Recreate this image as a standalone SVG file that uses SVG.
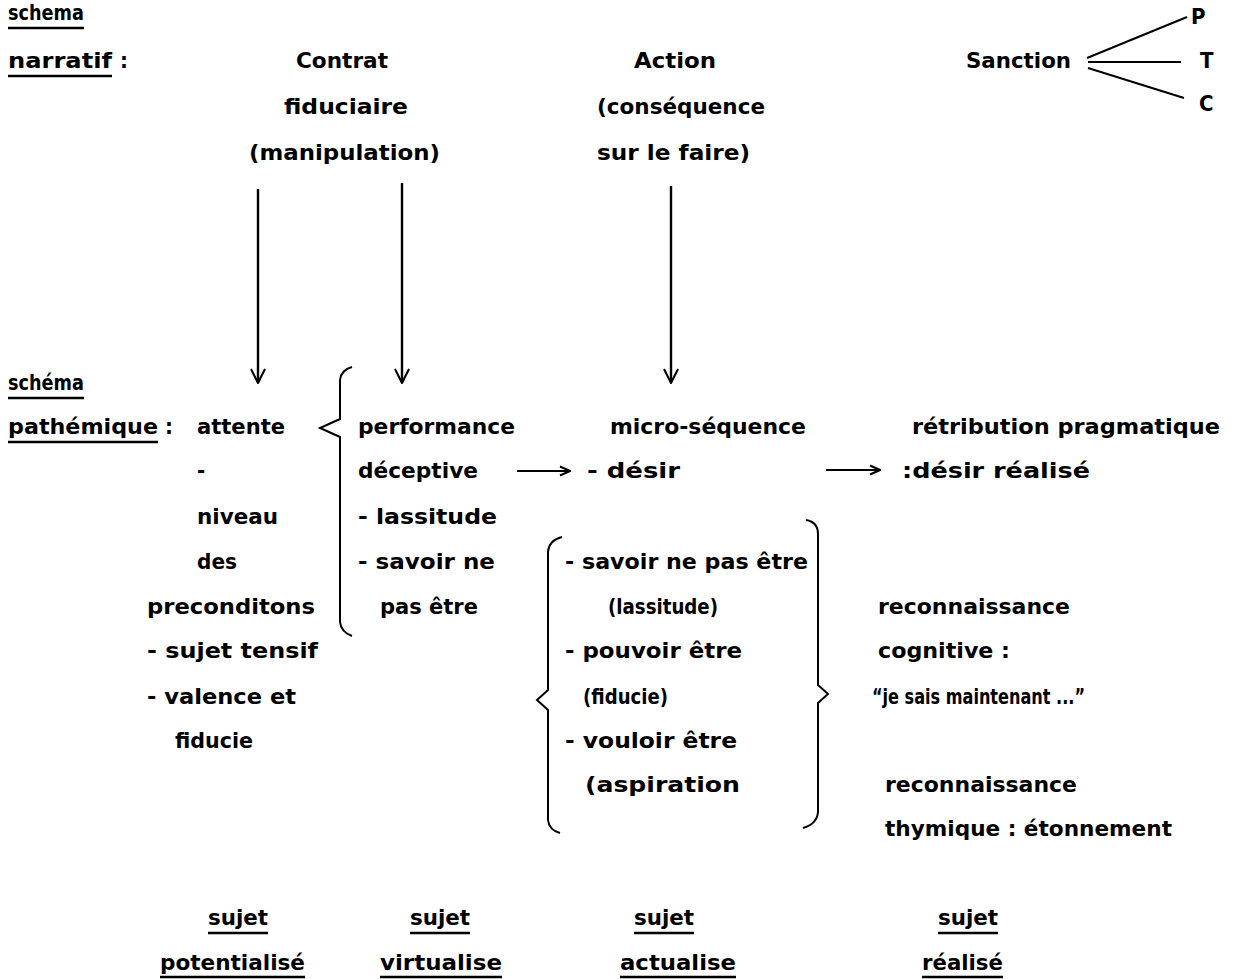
<svg xmlns="http://www.w3.org/2000/svg" width="1235" height="979" viewBox="0 0 1235 979">
<style>
text{font-family:"DejaVu Sans Condensed","DejaVu Sans","Liberation Sans",sans-serif;font-stretch:condensed;font-weight:bold;font-size:22px;fill:#000}
.ul{stroke:#000;stroke-width:2.5}
.ln{stroke:#000;stroke-width:2.4;fill:none}
.br{stroke:#000;stroke-width:2;fill:none}
</style>
<defs>
<marker id="v" viewBox="0 0 16 16" refX="15" refY="8" markerWidth="16" markerHeight="16" orient="auto" markerUnits="userSpaceOnUse"><path d="M1,1 L15,8 L1,15" fill="none" stroke="#000" stroke-width="2"/></marker>
<marker id="h" viewBox="0 0 12 12" refX="11" refY="6" markerWidth="12" markerHeight="12" orient="auto" markerUnits="userSpaceOnUse"><path d="M1,1.5 L11,6 L1,10.5" fill="none" stroke="#000" stroke-width="2"/></marker>
</defs>
<rect width="1235" height="979" fill="#fff"/>

<g id="label-narratif">
<text x="8" y="20" textLength="76" lengthAdjust="spacingAndGlyphs">schema</text>
<line class="ul" x1="8" y1="28" x2="84" y2="28"/>
<text x="8" y="68" textLength="104" lengthAdjust="spacingAndGlyphs">narratif</text>
<text x="120" y="68">:</text>
<line class="ul" x1="8" y1="76" x2="112" y2="76"/>
</g>
<g id="contrat">
<text x="296" y="68" textLength="92" lengthAdjust="spacingAndGlyphs">Contrat</text>
<text x="284" y="114" textLength="124" lengthAdjust="spacingAndGlyphs">fiduciaire</text>
<text x="249" y="160" textLength="191" lengthAdjust="spacingAndGlyphs">(manipulation)</text>
</g>
<g id="action">
<text x="634" y="68" textLength="82" lengthAdjust="spacingAndGlyphs">Action</text>
<text x="597" y="114" textLength="168" lengthAdjust="spacingAndGlyphs">(conséquence</text>
<text x="597" y="160" textLength="153" lengthAdjust="spacingAndGlyphs">sur le faire)</text>
</g>
<g id="sanction">
<text x="966" y="68" textLength="105" lengthAdjust="spacingAndGlyphs">Sanction</text>
<text x="1191" y="24">P</text>
<text x="1200" y="68">T</text>
<text x="1199" y="111">C</text>
<line class="ul" x1="1087" y1="58" x2="1187" y2="17" style="stroke-width:2"/>
<line class="ul" x1="1088" y1="62" x2="1181" y2="62" style="stroke-width:2"/>
<line class="ul" x1="1088" y1="68" x2="1184" y2="98" style="stroke-width:2"/>
</g>

<g id="label-pathemique">
<text x="8" y="390" textLength="76" lengthAdjust="spacingAndGlyphs">schéma</text>
<line class="ul" x1="8" y1="398" x2="84" y2="398"/>
<text x="8" y="434" textLength="150" lengthAdjust="spacingAndGlyphs">pathémique</text>
<text x="165" y="434">:</text>
<line class="ul" x1="8" y1="442" x2="158" y2="442"/>
</g>
<g id="attente">
<text x="197" y="434" textLength="88" lengthAdjust="spacingAndGlyphs">attente</text>
<text x="197" y="478">-</text>
<text x="197" y="524" textLength="81" lengthAdjust="spacingAndGlyphs">niveau</text>
<text x="197" y="569" textLength="40" lengthAdjust="spacingAndGlyphs">des</text>
<text x="147" y="614" textLength="168" lengthAdjust="spacingAndGlyphs">preconditons</text>
<text x="147" y="658" textLength="171" lengthAdjust="spacingAndGlyphs">- sujet tensif</text>
<text x="147" y="704" textLength="149" lengthAdjust="spacingAndGlyphs">- valence et</text>
<text x="175" y="748" textLength="78" lengthAdjust="spacingAndGlyphs">fiducie</text>
</g>
<g id="performance">
<text x="358" y="434" textLength="157" lengthAdjust="spacingAndGlyphs">performance</text>
<text x="358" y="478" textLength="120" lengthAdjust="spacingAndGlyphs">déceptive</text>
<text x="358" y="524" textLength="139" lengthAdjust="spacingAndGlyphs">- lassitude</text>
<text x="358" y="569" textLength="137" lengthAdjust="spacingAndGlyphs">- savoir ne</text>
<text x="380" y="614" textLength="98" lengthAdjust="spacingAndGlyphs">pas être</text>
</g>
<g id="micro-sequence">
<text x="610" y="434" textLength="196" lengthAdjust="spacingAndGlyphs">micro-séquence</text>
<text x="587" y="478" textLength="93" lengthAdjust="spacingAndGlyphs">- désir</text>
</g>
<g id="modalites">
<text x="565" y="569" textLength="243" lengthAdjust="spacingAndGlyphs">- savoir ne pas être</text>
<text x="608" y="614" textLength="110" lengthAdjust="spacingAndGlyphs">(lassitude)</text>
<text x="565" y="658" textLength="177" lengthAdjust="spacingAndGlyphs">- pouvoir être</text>
<text x="583" y="704" textLength="85" lengthAdjust="spacingAndGlyphs">(fiducie)</text>
<text x="565" y="748" textLength="172" lengthAdjust="spacingAndGlyphs">- vouloir être</text>
<text x="585" y="792" textLength="155" lengthAdjust="spacingAndGlyphs">(aspiration</text>
</g>
<g id="retribution">
<text x="912" y="434" textLength="308" lengthAdjust="spacingAndGlyphs">rétribution pragmatique</text>
<text x="902" y="478" textLength="188" lengthAdjust="spacingAndGlyphs">:désir réalisé</text>
</g>
<g id="reconnaissance-cognitive">
<text x="878" y="614" textLength="192" lengthAdjust="spacingAndGlyphs">reconnaissance</text>
<text x="878" y="658" textLength="132" lengthAdjust="spacingAndGlyphs">cognitive :</text>
<text x="872" y="704" textLength="213" lengthAdjust="spacingAndGlyphs">“je sais maintenant ...”</text>
</g>
<g id="reconnaissance-thymique">
<text x="885" y="792" textLength="192" lengthAdjust="spacingAndGlyphs">reconnaissance</text>
<text x="885" y="836" textLength="287" lengthAdjust="spacingAndGlyphs">thymique : étonnement</text>
</g>

<g id="sujet-potentialise">
<text x="208" y="925" textLength="60" lengthAdjust="spacingAndGlyphs">sujet</text>
<line class="ul" x1="208" y1="933" x2="268" y2="933"/>
<text x="160" y="970" textLength="145" lengthAdjust="spacingAndGlyphs">potentialisé</text>
<line class="ul" x1="160" y1="977" x2="305" y2="977"/>
</g>
<g id="sujet-virtualise">
<text x="410" y="925" textLength="60" lengthAdjust="spacingAndGlyphs">sujet</text>
<line class="ul" x1="410" y1="933" x2="470" y2="933"/>
<text x="380" y="970" textLength="122" lengthAdjust="spacingAndGlyphs">virtualise</text>
<line class="ul" x1="380" y1="977" x2="502" y2="977"/>
</g>
<g id="sujet-actualise">
<text x="634" y="925" textLength="60" lengthAdjust="spacingAndGlyphs">sujet</text>
<line class="ul" x1="634" y1="933" x2="694" y2="933"/>
<text x="620" y="970" textLength="116" lengthAdjust="spacingAndGlyphs">actualise</text>
<line class="ul" x1="620" y1="977" x2="736" y2="977"/>
</g>
<g id="sujet-realise">
<text x="938" y="925" textLength="60" lengthAdjust="spacingAndGlyphs">sujet</text>
<line class="ul" x1="938" y1="933" x2="998" y2="933"/>
<text x="922" y="970" textLength="81" lengthAdjust="spacingAndGlyphs">réalisé</text>
<line class="ul" x1="922" y1="977" x2="1003" y2="977"/>
</g>

<g id="braces">
<path class="br" d="M352,367 Q341,370 340,380 L340,419 L320,428 L340,437 L340,622 Q341,632 352,636"/>
<path class="br" d="M562,537 Q549,540 548,552 L548,690 L537,700 L548,710 L548,820 Q549,830 560,833"/>
<path class="br" d="M806,520 Q818,522 818,534 L818,685 L828,694 L818,703 L818,812 Q817,824 803,828"/>
</g>

<g id="connectors">
<line class="ln" x1="258" y1="189" x2="258" y2="383" marker-end="url(#v)"/>
<line class="ln" x1="402" y1="183" x2="402" y2="383" marker-end="url(#v)"/>
<line class="ln" x1="671" y1="186" x2="671" y2="383" marker-end="url(#v)"/>
<line class="ln" x1="517" y1="471" x2="570" y2="471" marker-end="url(#h)" style="stroke-width:2"/>
<line class="ln" x1="826" y1="470" x2="880" y2="470" marker-end="url(#h)" style="stroke-width:2"/>
</g>
</svg>
